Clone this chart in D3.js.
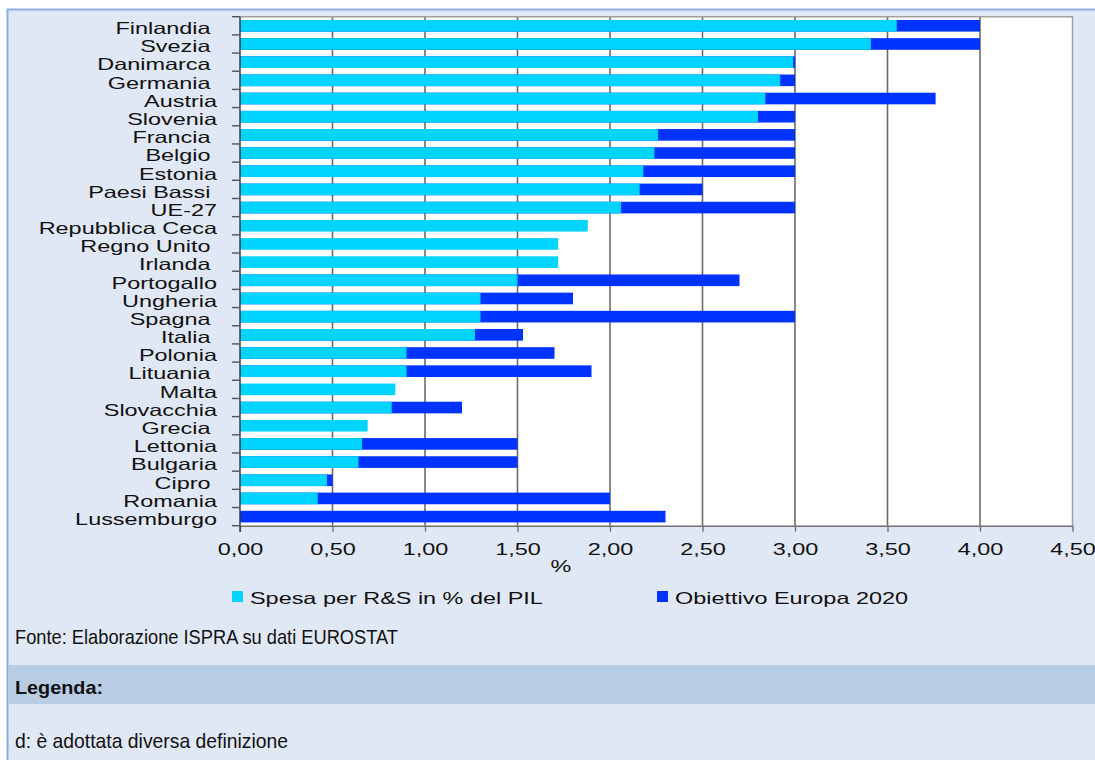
<!DOCTYPE html>
<html>
<head>
<meta charset="utf-8">
<script src="https://cdn.jsdelivr.net/npm/d3@7"></script>
<style>
  html, body { margin: 0; padding: 0; background: #fff; }
  svg { display: block; }
  text { font-family: "Liberation Sans", Arial, sans-serif; fill: #111; }
</style>
</head>
<body>
<svg id="chart" width="1095" height="760"></svg>
<script>
// Countries (trailing space kept where the label carries one)
const categories = [
  "Finlandia ", "Svezia ", "Danimarca ", "Germania ", "Austria", "Slovenia",
  "Francia ", "Belgio ", "Estonia", "Paesi Bassi ", "UE-27", "Repubblica Ceca",
  "Regno Unito ", "Irlanda ", "Portogallo", "Ungheria", "Spagna ", "Italia ",
  "Polonia", "Lituania ", "Malta", "Slovacchia", "Grecia ", "Lettonia",
  "Bulgaria", "Cipro ", "Romania", "Lussemburgo"
];

// R&D expenditure as % of GDP
const spesa = [
  3.55, 3.41, 2.99, 2.92, 2.84, 2.80,
  2.26, 2.24, 2.18, 2.16, 2.06, 1.88,
  1.72, 1.72, 1.50, 1.30, 1.30, 1.27,
  0.90, 0.90, 0.84, 0.82, 0.69, 0.66,
  0.64, 0.47, 0.42, null
];

// Europe 2020 national targets (% of GDP)
const obiettivo = [
  4.00, 4.00, 3.00, 3.00, 3.76, 3.00,
  3.00, 3.00, 3.00, 2.50, 3.00, null,
  null, null, 2.70, 1.80, 3.00, 1.53,
  1.70, 1.90, null, 1.20, null, 1.50,
  1.50, 0.50, 2.00, 2.30
];

const xTicks = [0, 0.5, 1, 1.5, 2, 2.5, 3, 3.5, 4, 4.5];
const seriesNames = ["Spesa per R&S in % del PIL", "Obiettivo Europa 2020"];
const seriesColors = ["#00d4ff", "#0033ff"];

const svg = d3.select("#chart");
const W = 1095, H = 760;
const SX = 1.42; // horizontal stretch of the chart lettering

// Panel background
svg.append("rect").attr("x", 0).attr("y", 0).attr("width", W).attr("height", H).attr("fill", "#fff");
svg.append("rect").attr("x", 7.5).attr("y", 9.5).attr("width", W).attr("height", H)
  .attr("fill", "#e1e8f5").attr("stroke", "#8eaddb").attr("stroke-width", 2);
svg.append("rect").attr("x", 8.5).attr("y", 665).attr("width", W).attr("height", 39).attr("fill", "#b8cce4");

// Plot area
const plot = { left: 240, right: 1072.5, top: 16.7, bottom: 525.7 };
const x = d3.scaleLinear().domain([0, 4.5]).range([plot.left, plot.right]);
const y = d3.scaleBand().domain(categories).range([plot.top, plot.bottom]).padding(0);
const bw = y.bandwidth();

svg.append("rect")
  .attr("x", plot.left).attr("y", plot.top)
  .attr("width", plot.right - plot.left).attr("height", plot.bottom - plot.top)
  .attr("fill", "#fff");

// Vertical gridlines
svg.append("g").selectAll("line").data(xTicks.filter(d => d > 0 && d < 4.5)).join("line")
  .attr("x1", d => x(d)).attr("x2", d => x(d))
  .attr("y1", plot.top).attr("y2", plot.bottom)
  .attr("stroke", "#6b6b6b").attr("stroke-width", 1.6);

// Plot frame (top and right)
svg.append("path")
  .attr("d", `M${plot.left},${plot.top}H${plot.right}V${plot.bottom}`)
  .attr("fill", "none").attr("stroke", "#a0a0a0").attr("stroke-width", 1.5);

const rows = categories.map((c, i) => ({ c, s: spesa[i], o: obiettivo[i] }));
const barY = d => y(d.c) + bw * 0.18;
const barH = bw * 0.64;

// Target bars (behind)
svg.append("g").selectAll("rect").data(rows.filter(d => d.o != null)).join("rect")
  .attr("x", x(0)).attr("y", barY)
  .attr("width", d => x(d.o) - x(0)).attr("height", barH)
  .attr("fill", seriesColors[1]);

// Expenditure bars (front)
svg.append("g").selectAll("rect").data(rows.filter(d => d.s != null)).join("rect")
  .attr("x", x(0)).attr("y", barY)
  .attr("width", d => x(d.s) - x(0)).attr("height", barH)
  .attr("fill", seriesColors[0]);

// X axis
const fmt = d => d3.format(".2f")(d).replace(".", ",");
const xAxis = svg.append("g").attr("transform", `translate(0,${plot.bottom})`)
  .call(d3.axisBottom(x).tickValues(xTicks).tickFormat(fmt).tickSize(6).tickSizeOuter(0));
xAxis.select(".domain").attr("stroke", "#707070").attr("stroke-width", 1.6);
xAxis.selectAll(".tick line").attr("stroke", "#707070").attr("stroke-width", 1.4);
xAxis.selectAll(".tick text").remove();
xAxis.selectAll(".tick").append("text")
  .attr("text-anchor", "middle")
  .attr("transform", `translate(0,29) scale(${SX},1)`)
  .style("font-size", "16.5px").style("fill", "#111")
  .text(d => fmt(d));

svg.append("text")
  .attr("transform", `translate(561,572) scale(${SX},1)`)
  .attr("text-anchor", "middle").style("font-size", "16.5px").text("%");

// Y axis: line with ticks on category boundaries
const yAxis = svg.append("g");
yAxis.append("line").attr("x1", plot.left).attr("x2", plot.left)
  .attr("y1", plot.top).attr("y2", plot.bottom + 6)
  .attr("stroke", "#333").attr("stroke-width", 1.4);
const bounds = categories.map(c => y(c)).concat([plot.bottom]);
yAxis.selectAll("line.tk").data(bounds).join("line").attr("class", "tk")
  .attr("x1", plot.left - 8).attr("x2", plot.left)
  .attr("y1", d => d).attr("y2", d => d)
  .attr("stroke", "#555").attr("stroke-width", 1.4);

svg.append("g").selectAll("text").data(categories).join("text")
  .attr("xml:space", "preserve").style("white-space", "pre")
  .attr("text-anchor", "end")
  .attr("transform", d => `translate(217,${y(d) + bw / 2 + 8.3}) scale(${SX},1)`)
  .style("font-size", "16.5px")
  .text(d => d);

// Legend
const legend = svg.append("g");
const legX = [232, 657];
seriesNames.forEach((name, i) => {
  legend.append("rect").attr("x", legX[i]).attr("y", 591).attr("width", 11).attr("height", 11)
    .attr("fill", seriesColors[i]);
  legend.append("text")
    .attr("transform", `translate(${legX[i] + 18},603.5) scale(${SX},1)`)
    .style("font-size", "16.5px").text(name);
});

// Notes
svg.append("text").attr("x", 15).attr("y", 643.5)
  .attr("textLength", 383).attr("lengthAdjust", "spacingAndGlyphs")
  .style("font-size", "21px").text("Fonte: Elaborazione ISPRA su dati EUROSTAT");
svg.append("text").attr("x", 15).attr("y", 694)
  .attr("textLength", 88).attr("lengthAdjust", "spacingAndGlyphs")
  .style("font-size", "19px").style("font-weight", "bold").text("Legenda:");
svg.append("text").attr("x", 15).attr("y", 747.5)
  .attr("textLength", 273).attr("lengthAdjust", "spacingAndGlyphs")
  .style("font-size", "21px").text("d: è adottata diversa definizione");
</script>
</body>
</html>
